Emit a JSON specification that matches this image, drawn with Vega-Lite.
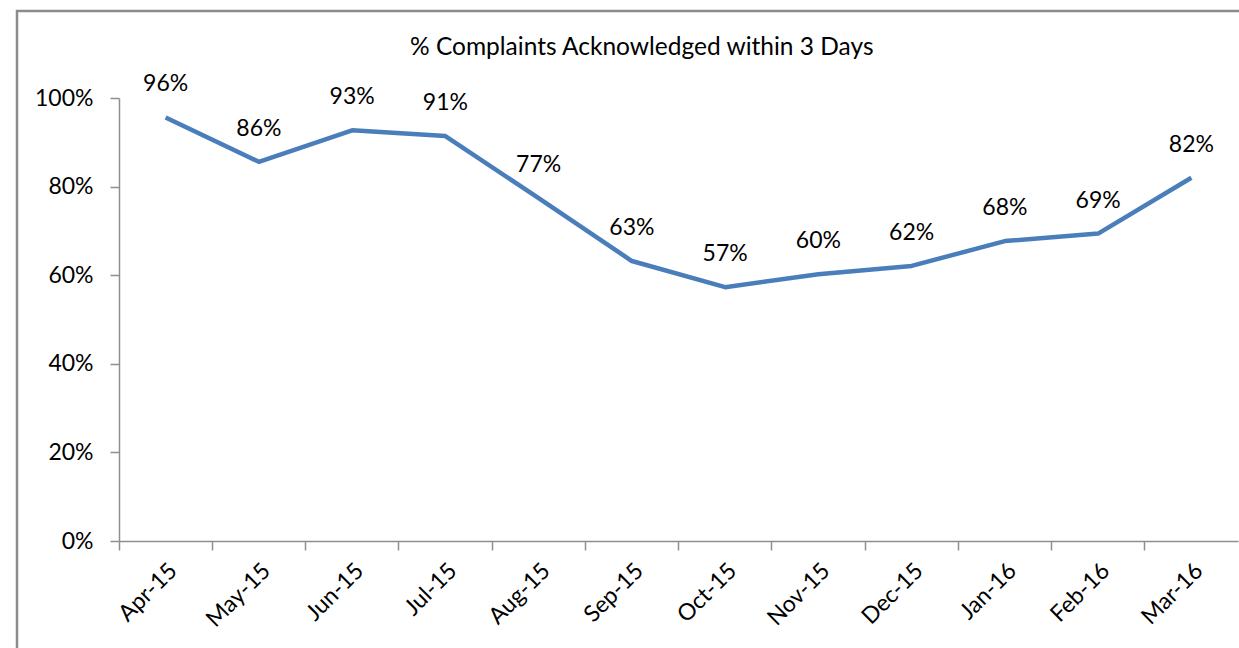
{
  "$schema": "https://vega.github.io/schema/vega-lite/v6.json",
  "autosize": "none",
  "width": 1232,
  "height": 647,
  "padding": {"left": 17, "top": 11, "right": -10, "bottom": -10},
  "background": "white",
  "config": {
    "view": {"stroke": "#8c8c8c", "strokeWidth": 2.5},
    "font": "Lato",
    "axis": {"grid": false, "domainColor": "#8f8f8f", "domainWidth": 1.5, "tickColor": "#8f8f8f", "tickWidth": 1.5, "tickSize": 9, "labelFont": "Lato", "labelFontSize": 23, "labelColor": "#000", "titleFontSize": 0, "labelFontWeight": "normal"}
  },
  "title": {
    "text": "% Complaints Acknowledged within 3 Days",
    "font": "Lato",
    "fontSize": 24.5,
    "fontWeight": "normal",
    "color": "#000",
    "frame": "group",
    "anchor": "start",
    "baseline": "alphabetic",
    "offset": -68,
    "dx": 393
  },
  "data": {
    "values": [
      {"month": "Apr-15", "pct": 0.956},
      {"month": "May-15", "pct": 0.856},
      {"month": "Jun-15", "pct": 0.927},
      {"month": "Jul-15", "pct": 0.914},
      {"month": "Aug-15", "pct": 0.774},
      {"month": "Sep-15", "pct": 0.632},
      {"month": "Oct-15", "pct": 0.573},
      {"month": "Nov-15", "pct": 0.602},
      {"month": "Dec-15", "pct": 0.621},
      {"month": "Jan-16", "pct": 0.677},
      {"month": "Feb-16", "pct": 0.694},
      {"month": "Mar-16", "pct": 0.82}
    ]
  },
  "encoding": {
    "x": {
      "field": "month",
      "type": "ordinal",
      "sort": null,
      "scale": {"type": "band", "range": [102, 1221], "paddingInner": 0, "paddingOuter": 0},
      "axis": {"title": null, "labelAngle": -45, "bandPosition": 0, "labelPadding": 9, "offset": -117}
    },
    "y": {
      "field": "pct",
      "type": "quantitative",
      "scale": {"domain": [0, 1], "range": [530, 87], "nice": false, "zero": true},
      "axis": {"title": null, "format": ".0%", "values": [0, 0.2, 0.4, 0.6, 0.8, 1], "labelPadding": 17, "offset": -102}
    }
  },
  "layer": [
    {"mark": {"type": "line", "color": "#4a7ebb", "strokeWidth": 4.5, "strokeJoin": "round"}},
    {
      "mark": {"type": "text", "font": "Lato", "fontSize": 23, "color": "#000", "baseline": "alphabetic", "dy": -26},
      "encoding": {"text": {"field": "pct", "type": "quantitative", "format": ".0%"}}
    }
  ]
}
